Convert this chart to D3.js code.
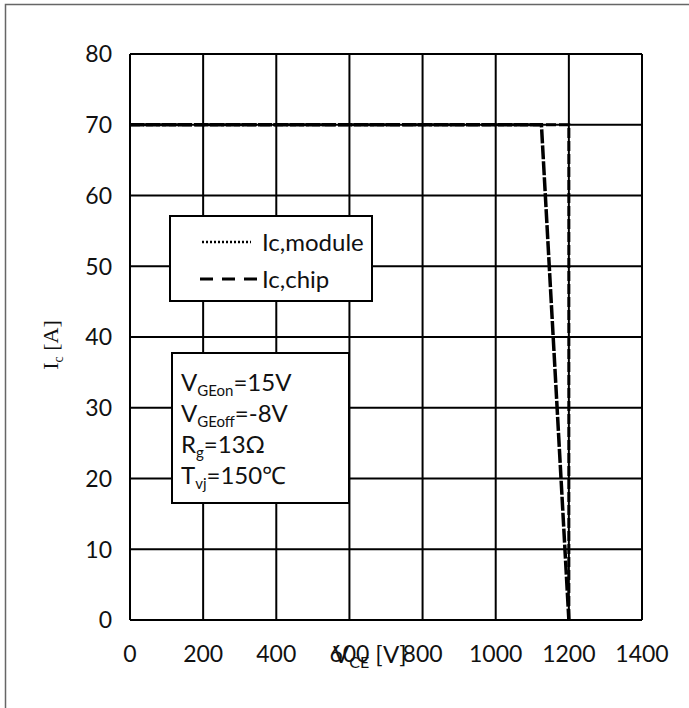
<!DOCTYPE html>
<html>
<head>
<meta charset="utf-8">
<script src="https://cdn.jsdelivr.net/npm/d3@7"></script>
<style>
  body { margin: 0; background: #fff; }
  text { font-family: Lato, "Open Sans", sans-serif; }
</style>
</head>
<body>
<svg id="chart" width="689" height="708"></svg>
<script>
// data
var xTicks = [0, 200, 400, 600, 800, 1000, 1200, 1400];
var yTicks = [0, 10, 20, 30, 40, 50, 60, 70, 80];
var moduleVce = [0, 1125, 1200];
var moduleIc = [70, 70, 0];
var chipVce = [0, 1200, 1200];
var chipIc = [70, 70, 0];
var legendNames = ["Ic,module", "Ic,chip"];

var svg = d3.select("#chart");

var margin = { left: 130, right: 642, top: 54, bottom: 620 };

var x = d3.scaleLinear().domain([0, 1400]).range([margin.left, margin.right]);
var y = d3.scaleLinear().domain([0, 80]).range([margin.bottom, margin.top]);

// outer frame (only left/top edges fall inside the picture)
svg.append("rect")
    .attr("x", 5.5).attr("y", 4.5)
    .attr("width", 700).attr("height", 720)
    .attr("fill", "none")
    .attr("stroke", "#666")
    .attr("stroke-width", 1.5);

// grid
svg.append("g").selectAll("line")
    .data(xTicks)
    .enter().append("line")
    .attr("x1", function (d) { return x(d); })
    .attr("x2", function (d) { return x(d); })
    .attr("y1", y(0)).attr("y2", y(80))
    .attr("stroke", "#000").attr("stroke-width", 2);

svg.append("g").selectAll("line")
    .data(yTicks)
    .enter().append("line")
    .attr("y1", function (d) { return y(d); })
    .attr("y2", function (d) { return y(d); })
    .attr("x1", x(0)).attr("x2", x(1400))
    .attr("stroke", "#000").attr("stroke-width", 2);

// tick labels
svg.append("g").selectAll("text")
    .data(yTicks)
    .enter().append("text")
    .attr("x", 112)
    .attr("y", function (d) { return y(d); })
    .attr("dy", "0.36em")
    .attr("text-anchor", "end")
    .attr("font-size", 23)
    .attr("fill", "#111")
    .text(function (d) { return d; });

svg.append("g").selectAll("text")
    .data(xTicks)
    .enter().append("text")
    .attr("x", function (d) { return x(d); })
    .attr("y", 654)
    .attr("dy", "0.36em")
    .attr("text-anchor", "middle")
    .attr("font-size", 23)
    .attr("fill", "#111")
    .text(function (d) { return d; });

// axis titles (sits on top of the 600/800 labels as in the source)
var xt = svg.append("text")
    .attr("x", 333).attr("y", 663)
    .attr("font-size", 24)
    .attr("fill", "#111");
xt.append("tspan").text("V");
xt.append("tspan").attr("font-size", 16).attr("dy", 5).text("CE");
xt.append("tspan").attr("dy", -5).text("  [V]");

var yt = svg.append("text")
    .attr("transform", "translate(58,345) rotate(-90)")
    .attr("text-anchor", "middle")
    .attr("font-size", 22)
    .style("font-family", "'Liberation Serif', serif")
    .attr("fill", "#111");
yt.append("tspan").text("I");
yt.append("tspan").attr("font-size", 14).attr("dy", 5).text("c");
yt.append("tspan").attr("dy", -5).text(" [A]");

// legend box
svg.append("rect")
    .attr("x", 170).attr("y", 216)
    .attr("width", 202).attr("height", 85)
    .attr("fill", "#fff").attr("stroke", "#000").attr("stroke-width", 2);

var legendY = [242, 279];
var legendDash = ["2,2", "13,9"];
var legendWidth = [2.5, 3];
legendNames.forEach(function (name, i) {
    svg.append("line")
        .attr("x1", i === 0 ? 202 : 200).attr("x2", i === 0 ? 251 : 257)
        .attr("y1", legendY[i]).attr("y2", legendY[i])
        .attr("stroke", "#000").attr("stroke-width", legendWidth[i])
        .attr("stroke-dasharray", legendDash[i]);
    svg.append("text")
        .attr("x", 262).attr("y", legendY[i])
        .attr("dy", "0.36em")
        .attr("font-size", 24)
        .attr("fill", "#111")
        .text(name);
});

// conditions box
svg.append("rect")
    .attr("x", 172).attr("y", 353)
    .attr("width", 177).attr("height", 150)
    .attr("fill", "#fff").attr("stroke", "#000").attr("stroke-width", 2);

var conds = [
    ["V", "GEon", "=15V"],
    ["V", "GEoff", "=-8V"],
    ["R", "g", "=13\u03A9"],
    ["T", "vj", "=150\u2103"]
];
conds.forEach(function (c, i) {
    var t = svg.append("text")
        .attr("x", 181).attr("y", 391 + i * 31)
        .attr("font-size", 24)
        .attr("fill", "#111");
    t.append("tspan").text(c[0]);
    t.append("tspan").attr("font-size", 15).attr("dy", 5).text(c[1]);
    t.append("tspan").attr("dy", -5).text(c[2]);
});

// curves
var line = d3.line()
    .x(function (d) { return x(d[0]); })
    .y(function (d) { return y(d[1]); });

svg.append("path")
    .datum(d3.zip(chipVce, chipIc))
    .attr("d", line)
    .attr("fill", "none")
    .attr("stroke", "#000").attr("stroke-width", 3)
    .attr("stroke-dasharray", "10,3");

svg.append("path")
    .datum(d3.zip(moduleVce, moduleIc))
    .attr("d", line)
    .attr("fill", "none")
    .attr("stroke", "#000").attr("stroke-width", 3.5)
    .attr("stroke-dasharray", "14,2");
</script>
</body>
</html>
